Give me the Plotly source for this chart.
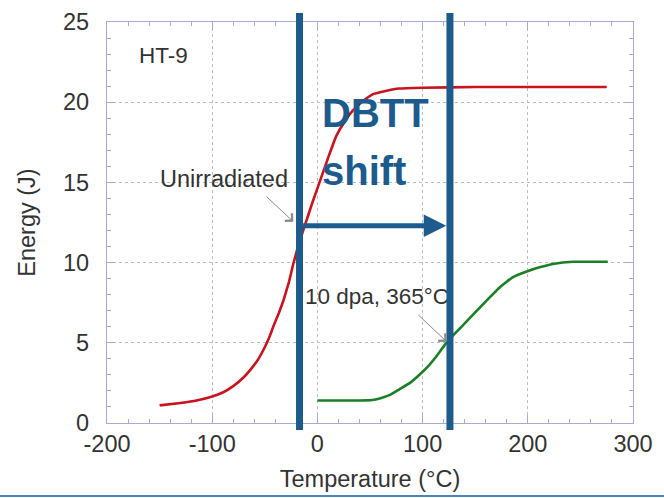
import plotly.graph_objects as go

# Unirradiated HT-9 Charpy curve
unirr_temp = [-150, -130, -115, -100, -90, -80, -70, -64, -57, -51, -46, -42, -37, -32, -27, -23,
              -18, -12, -5, 2, 10, 18, 26, 34, 44, 53, 65, 78, 100, 150, 200, 275]
unirr_energy = [1.1, 1.25, 1.4, 1.65, 1.9, 2.3, 2.85, 3.3, 3.9, 4.6, 5.3, 6.0, 6.8, 7.7, 8.8, 9.9,
                11.1, 12.3, 13.7, 15.0, 16.5, 17.9, 18.8, 19.5, 20.1, 20.5, 20.7, 20.85, 20.9, 20.95, 20.95, 20.95]

# Irradiated (10 dpa, 365°C)
irr_temp = [0, 20, 40, 52, 60, 69, 78, 88, 96, 104, 113, 122, 131, 145, 161, 174,
            186, 199, 212, 225, 243, 260, 276]
irr_energy = [1.4, 1.4, 1.4, 1.43, 1.55, 1.75, 2.1, 2.5, 2.95, 3.45, 4.15, 4.95, 5.6, 6.55, 7.65, 8.5,
              9.1, 9.45, 9.72, 9.93, 10.05, 10.05, 10.05]

x_ticks = [-200, -100, 0, 100, 200, 300]
y_ticks = [0, 5, 10, 15, 20, 25]

dbtt_unirr = -17
dbtt_irr = 126
dbtt_energy = 12.3

BLUE = "#1C5B8C"
FRAME = "#A9A9D6"
FONT = "Liberation Sans, Arial, sans-serif"
TXT = "#333333"
FS = 23.5

fig = go.Figure()
fig.add_trace(go.Scatter(x=unirr_temp, y=unirr_energy, mode="lines",
                         line=dict(color="#C8141E", width=2.6, shape="spline", smoothing=0.3),
                         showlegend=False, hoverinfo="skip"))
fig.add_trace(go.Scatter(x=irr_temp, y=irr_energy, mode="lines",
                         line=dict(color="#1B7F26", width=2.6, shape="spline", smoothing=0.3),
                         showlegend=False, hoverinfo="skip"))
# label under the DBTT marker line (as in the reference)
fig.add_trace(go.Scatter(x=[-11.8], y=[7.8], mode="text", text=["10 dpa, 365°C"],
                         textposition="middle right",
                         textfont=dict(family=FONT, size=FS - 1, color=TXT),
                         showlegend=False, hoverinfo="skip", cliponaxis=False))

axis_common = dict(
    showline=True, linecolor=FRAME, linewidth=1.2, mirror="ticks",
    ticks="inside", tickcolor=FRAME, ticklen=8, tickwidth=1,
    showgrid=True, gridcolor="#BDBDBD", griddash="dot", gridwidth=1,
    zeroline=False, tickfont=dict(family=FONT, size=FS, color=TXT), automargin=False,
)

fig.update_xaxes(range=[-200, 300], tickvals=x_ticks, ticktext=[str(v) for v in x_ticks],
                 minor=dict(dtick=20, ticks="inside", ticklen=4, tickcolor=FRAME, showgrid=False),
                 title=dict(text="Temperature (°C)", font=dict(family=FONT, size=FS, color=TXT), standoff=14),
                 ticklabelstandoff=0, **axis_common)
fig.update_yaxes(range=[0, 25], tickvals=y_ticks, ticktext=[str(v) for v in y_ticks],
                 minor=dict(dtick=1, ticks="inside", ticklen=4, tickcolor=FRAME, showgrid=False),
                 title=dict(text="Energy (J)", font=dict(family=FONT, size=FS, color=TXT), standoff=20),
                 ticklabelstandoff=12, **axis_common)

# DBTT vertical markers
for xv in (dbtt_unirr, dbtt_irr):
    fig.add_shape(type="line", xref="x", yref="paper", x0=xv, x1=xv, y0=-0.0175, y1=1.0224,
                  line=dict(color=BLUE, width=7), layer="above")

# bottom slide rule
fig.add_shape(type="line", xref="paper", yref="paper", x0=-0.21, x1=1.07, y0=-0.182, y1=-0.182,
              line=dict(color="#4A82C0", width=2))

# DBTT shift arrow
fig.add_annotation(x=dbtt_irr - 3.5, y=dbtt_energy, ax=dbtt_unirr + 2, ay=dbtt_energy,
                   xref="x", yref="y", axref="x", ayref="y", text="",
                   showarrow=True, arrowhead=2, arrowsize=0.9, arrowwidth=5, arrowcolor=BLUE, standoff=0)

fig.add_annotation(x=2.5, y=19.3, xref="x", yref="y", text="<b>DBTT</b>", showarrow=False,
                   xanchor="left", yanchor="middle",
                   font=dict(family="Liberation Sans", size=40, color=BLUE))
fig.add_annotation(x=2.5, y=15.7, xref="x", yref="y", text="<b>shift</b>", showarrow=False,
                   xanchor="left", yanchor="middle",
                   font=dict(family="Liberation Sans", size=40, color=BLUE))

# labels
fig.add_annotation(x=-171.5, y=22.9, xref="x", yref="y", text="HT-9", showarrow=False,
                   xanchor="left", yanchor="middle", font=dict(family=FONT, size=FS - 1, color=TXT))
fig.add_annotation(x=-26, y=15.2, xref="x", yref="y", text="Unirradiated", showarrow=False,
                   xanchor="right", yanchor="middle", font=dict(family=FONT, size=FS, color=TXT))

# thin pointer arrows
fig.add_annotation(x=-22.9, y=12.55, ax=-49.8, ay=14.2, xref="x", yref="y", axref="x", ayref="y",
                   text="", showarrow=True, arrowhead=4, arrowsize=2, arrowwidth=1, arrowcolor="#8A8A8A", standoff=0)
fig.add_annotation(x=122.9, y=5.07, ax=94.4, ay=6.83, xref="x", yref="y", axref="x", ayref="y",
                   text="", showarrow=True, arrowhead=4, arrowsize=2, arrowwidth=1, arrowcolor="#8A8A8A", standoff=0)

fig.update_layout(width=664, height=498, autosize=False,
                  margin=dict(l=107, r=31, t=22, b=75),
                  paper_bgcolor="white", plot_bgcolor="white",
                  font=dict(family=FONT, color=TXT))

fig.write_html("out.html", config={"displayModeBar": False},
               post_script="document.body.style.margin='0';document.body.style.overflow='hidden';")
